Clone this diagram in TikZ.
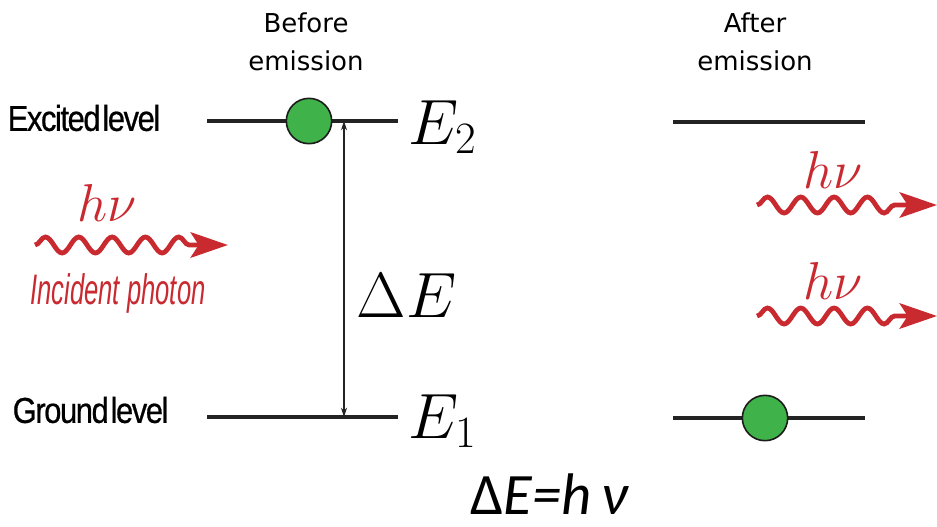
\RequirePackage{fix-cm}
\documentclass[tikz,border=0pt]{standalone}
\usepackage{fontspec}
\usepackage{tikz}
\usetikzlibrary{arrows.meta,decorations.pathmorphing}
\newfontfamily\headfont{DejaVu Sans}
\newfontfamily\levelfont[FakeStretch=0.86,LetterSpace=-4,WordSpace=0.25,FakeBold=0.6]{Liberation Sans}
\newfontfamily\photonfont[FakeStretch=0.6]{Liberation Sans}
\newfontfamily\eqfont{Carlito}
\definecolor{photonred}{RGB}{200,42,48}
\definecolor{electrongreen}{RGB}{64,178,74}
\definecolor{levelgray}{RGB}{35,35,35}
\tikzset{
    levelline/.style={draw=levelgray, line width=3.6pt},
    electron/.style={circle, draw=levelgray!80!black, line width=1.2pt,
        fill=electrongreen, minimum size=34pt, inner sep=0pt},
    gaparrow/.style={{Stealth[length=7pt,width=4.5pt]}-{Stealth[length=7pt,width=4.5pt]},
        draw=levelgray, line width=0.8pt},
    photon/.style={draw=photonred, line width=3.6pt,
        -{Stealth[length=28pt,width=19pt,inset=6pt]},
        decorate, decoration={snake, segment length=25pt, amplitude=6pt,
        post=lineto, post length=26pt}},
    headlabel/.style={font=\headfont\fontsize{19.5}{28.5}\selectfont, align=center},
    levellabel/.style={font=\levelfont\fontsize{27}{30}\selectfont, anchor=west},
    energylabel/.style={font=\fontsize{48}{54}\selectfont, anchor=west},
    hnulabel/.style={text=photonred, font=\fontsize{40}{44}\selectfont}
}
\begin{document}
\begin{tikzpicture}[x=0.75pt, y=-0.75pt]
    \useasboundingbox (0,0) rectangle (937,526);

    % headings
    \node[headlabel] (before) at (306,42) {Before\\emission};
    \node[headlabel] (after) at (755,42) {After\\emission};

    % level names
    \node[levellabel] (excited) at (3,118) {Excited level};
    \node[levellabel] (ground) at (8,410) {Ground level};

    % before emission
    \coordinate (upL) at (207,121);
    \coordinate (upR) at (398,121);
    \coordinate (lowL) at (207,417);
    \coordinate (lowR) at (398,417);
    \draw[levelline] (upL) -- (upR);
    \draw[levelline] (lowL) -- (lowR);
    \node[electron] (elBefore) at (309,121) {};
    \coordinate (gapTop) at (344,121);
    \coordinate (gapBot) at (344,417);
    \draw[gaparrow] (gapTop) -- (gapBot);
    \node[energylabel] (etwo) at (404,127) {$E_2$};
    \node[energylabel] (eone) at (404,421) {$E_1$};
    \node[energylabel] (dE) at (352,296) {$\Delta E$};

    % incident photon
    \node[hnulabel] (hnuIn) at (107,203) {$h\nu$};
    \coordinate (inStart) at (35,245);
    \coordinate (inEnd) at (228,245);
    \draw[photon] (inStart) -- (inEnd);
    \node[text=photonred, font=\photonfont\itshape\fontsize{32}{36}\selectfont]
        (incident) at (118,293) {Incident photon};

    % after emission
    \coordinate (upL2) at (673,122);
    \coordinate (upR2) at (865,122);
    \coordinate (lowL2) at (673,418);
    \coordinate (lowR2) at (865,418);
    \draw[levelline] (upL2) -- (upR2);
    \draw[levelline] (lowL2) -- (lowR2);
    \node[electron] (elAfter) at (765,418) {};

    % emitted photons
    \node[hnulabel] (hnuOne) at (833,170) {$h\nu$};
    \coordinate (outOneStart) at (757,205);
    \coordinate (outOneEnd) at (937,205);
    \draw[photon] (outOneStart) -- (outOneEnd);
    \node[hnulabel] (hnuTwo) at (833,281) {$h\nu$};
    \coordinate (outTwoStart) at (757,316);
    \coordinate (outTwoEnd) at (937,316);
    \draw[photon] (outTwoStart) -- (outTwoEnd);

    % relation
    \node[font=\eqfont\fontsize{44}{48}\selectfont, anchor=base, inner sep=0pt]
        (relation) at (550,514) {Δ\textit{E=h\,ν}};
\end{tikzpicture}
\end{document}
